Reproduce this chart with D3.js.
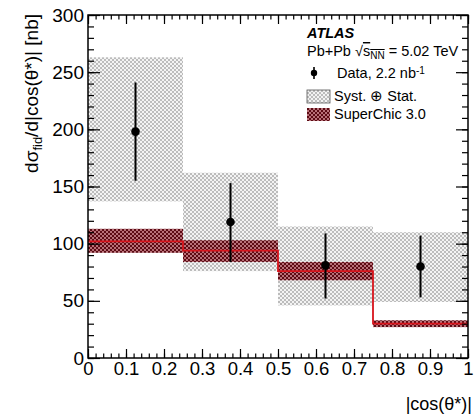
<!DOCTYPE html>
<html>
<head>
<meta charset="utf-8">
<script src="https://cdn.jsdelivr.net/npm/d3@7"></script>
<style>
body{margin:0;background:#fff}
svg{display:block}
text{font-family:"Liberation Sans",Arial,Helvetica,sans-serif;fill:#000}
</style>
</head>
<body>
<svg id="chart" width="475" height="417"></svg>
<script>
// bins in |cos(theta*)|
const binEdges = [0, 0.25, 0.5, 0.75, 1];
// measured data, with stat error bar and syst (+) stat box
const dataVal = [198, 119, 81, 80];
const dataErrLo = [155, 84, 52, 53];
const dataErrHi = [241, 153, 109, 107];
const systLo = [137, 76, 46, 49];
const systHi = [263, 162, 115, 110];
// SuperChic 3.0 prediction with band
const scVal = [102, 94, 76, 30];
const scLo = [92, 84, 68, 27];
const scHi = [113, 103, 84, 33];
// axis ticks
const xTicks = [0, 0.1, 0.2, 0.3, 0.4, 0.5, 0.6, 0.7, 0.8, 0.9, 1];
const xLabels = ['0', '0.1', '0.2', '0.3', '0.4', '0.5', '0.6', '0.7', '0.8', '0.9', '1'];
const yTicks = [0, 50, 100, 150, 200, 250, 300];

const margin = {top: 15, right: 7, bottom: 59, left: 88};
const W = 475, H = 417;
const width = W - margin.left - margin.right, height = H - margin.top - margin.bottom;

const x = d3.scaleLinear().domain([0, 1]).range([0, width]);
const y = d3.scaleLinear().domain([0, 300]).range([height, 0]);

const svg = d3.select('#chart');
const defs = svg.append('defs');
// checker fills like ROOT's dotted fill styles
const mkPat = (id, bg, fg) => {
  const p = defs.append('pattern').attr('id', id).attr('width', 4).attr('height', 4).attr('patternUnits', 'userSpaceOnUse');
  p.append('rect').attr('width', 4).attr('height', 4).attr('fill', bg);
  p.append('rect').attr('width', 2).attr('height', 2).attr('fill', fg);
  p.append('rect').attr('x', 2).attr('y', 2).attr('width', 2).attr('height', 2).attr('fill', fg);
};
mkPat('grayPat', '#f3f3f3', '#bcbcbc');
mkPat('redPat', '#b87078', '#5c0b14');

const g = svg.append('g').attr('transform', `translate(${margin.left},${margin.top})`);

const bins = dataVal.map((d, i) => ({i, x0: binEdges[i], x1: binEdges[i + 1], v: d, lo: dataErrLo[i], hi: dataErrHi[i],
  sLo: systLo[i], sHi: systHi[i], sc: scVal[i], scLo: scLo[i], scHi: scHi[i]}));

// syst boxes
g.selectAll('.syst').data(bins).enter().append('rect').attr('class', 'syst')
  .attr('x', d => x(d.x0)).attr('width', d => x(d.x1) - x(d.x0))
  .attr('y', d => y(d.sHi)).attr('height', d => y(d.sLo) - y(d.sHi))
  .attr('fill', 'url(#grayPat)');

// SuperChic bands
g.selectAll('.scband').data(bins).enter().append('rect').attr('class', 'scband')
  .attr('x', d => x(d.x0)).attr('width', d => x(d.x1) - x(d.x0))
  .attr('y', d => y(d.scHi)).attr('height', d => y(d.scLo) - y(d.scHi))
  .attr('fill', 'url(#redPat)');

// SuperChic central as step line
const stepPts = [];
bins.forEach(d => { stepPts.push([d.x0, d.sc]); stepPts.push([d.x1, d.sc]); });
g.append('path').datum(stepPts)
  .attr('d', d3.line().x(d => x(d[0])).y(d => y(d[1])))
  .attr('fill', 'none').attr('stroke', '#d8141c').attr('stroke-width', 1.8);

// data points
const cx = d => x((d.x0 + d.x1) / 2);
g.selectAll('.err').data(bins).enter().append('line').attr('class', 'err')
  .attr('x1', cx).attr('x2', cx).attr('y1', d => y(d.lo)).attr('y2', d => y(d.hi))
  .attr('stroke', '#000').attr('stroke-width', 2);
g.selectAll('.pt').data(bins).enter().append('circle').attr('class', 'pt')
  .attr('cx', cx).attr('cy', d => y(d.v)).attr('r', 4.3).attr('fill', '#000');

// axes, ROOT style ticks inside on all four sides
const minorX = d3.range(0, 1.0001, 0.02).map(v => +v.toFixed(2));
const minorY = d3.range(0, 301, 10);
const addAxis = (axis, tr, cls) => {
  const a = g.append('g').attr('class', cls).attr('transform', tr).call(axis);
  a.select('.domain').remove();
  a.selectAll('line').attr('stroke', '#000').attr('stroke-width', 1.2);
  return a;
};
addAxis(d3.axisBottom(x).tickValues(minorX).tickSize(-4.5).tickFormat(''), `translate(0,${height})`, 'xminor');
addAxis(d3.axisTop(x).tickValues(minorX).tickSize(-4.5).tickFormat(''), 'translate(0,0)', 'xminorT');
addAxis(d3.axisTop(x).tickValues(xTicks).tickSize(-9).tickFormat(''), 'translate(0,0)', 'xmajorT');
const xa = addAxis(d3.axisBottom(x).tickValues(xTicks).tickSize(-9).tickPadding(4).tickFormat((d, i) => xLabels[i]), `translate(0,${height})`, 'xaxis');
xa.selectAll('text').style('font-size', '18.5px');

addAxis(d3.axisLeft(y).tickValues(minorY).tickSize(-6).tickFormat(''), 'translate(0,0)', 'yminor');
addAxis(d3.axisRight(y).tickValues(minorY).tickSize(-6).tickFormat(''), `translate(${width},0)`, 'yminorR');
addAxis(d3.axisRight(y).tickValues(yTicks).tickSize(-12).tickFormat(''), `translate(${width},0)`, 'ymajorR');
const ya = addAxis(d3.axisLeft(y).tickValues(yTicks).tickSize(-12).tickPadding(4), 'translate(0,0)', 'yaxis');
ya.selectAll('text').style('font-size', '19px');

g.append('rect').attr('width', width).attr('height', height).attr('fill', 'none').attr('stroke', '#000').attr('stroke-width', 1.5);

// axis titles
svg.append('text').attr('x', 472).attr('y', 410).attr('text-anchor', 'end').style('font-size', '18px').text('|cos(θ*)|');
const yt = svg.append('text').attr('transform', `translate(38,${margin.top - 1}) rotate(-90)`).attr('text-anchor', 'end').style('font-size', '19px');
yt.append('tspan').text('dσ');
yt.append('tspan').attr('baseline-shift', '-30%').style('font-size', '13px').text('fid');
yt.append('tspan').text('/d|cos(θ*)| [nb]');

// legend
const fs = '14.5px';
const lg = svg.append('g').attr('transform', 'translate(307,0)');
lg.append('text').attr('x', 0).attr('y', 38).style('font-size', fs).style('font-weight', 'bold').style('font-style', 'italic').text('ATLAS');
const t2 = lg.append('text').attr('x', 0).attr('y', 56).style('font-size', fs);
t2.append('tspan').text('Pb+Pb √');
t2.append('tspan').style('text-decoration', 'overline').text('s');
t2.append('tspan').style('text-decoration', 'overline').attr('baseline-shift', '-25%').style('font-size', '10px').text('NN');
t2.append('tspan').text(' = 5.02 TeV');

const legendItems = ['Data', 'Syst', 'SuperChic'];
const ly = [73, 96, 114];
lg.selectAll('.lsym').data(legendItems).enter().append('g').each(function(d, i) {
  const s = d3.select(this);
  if (d === 'Data') {
    s.append('line').attr('x1', 7).attr('x2', 7).attr('y1', ly[i] - 6).attr('y2', ly[i] + 6).attr('stroke', '#000').attr('stroke-width', 1.6);
    s.append('circle').attr('cx', 7).attr('cy', ly[i]).attr('r', 3.2).attr('fill', '#000');
  } else {
    s.append('rect').attr('x', 0).attr('y', ly[i] - 6).attr('width', 23).attr('height', 13)
      .attr('fill', d === 'Syst' ? 'url(#grayPat)' : 'url(#redPat)')
      .attr('stroke', d === 'Syst' ? '#555' : 'none').attr('stroke-width', 0.8);
  }
});
const t3 = lg.append('text').attr('x', 30).attr('y', ly[0] + 5).style('font-size', fs);
t3.append('tspan').text('Data, 2.2 nb');
t3.append('tspan').attr('baseline-shift', '40%').style('font-size', '10px').text('-1');
lg.append('text').attr('x', 27).attr('y', ly[1] + 5).style('font-size', fs).text('Syst. ⊕ Stat.');
lg.append('text').attr('x', 27).attr('y', ly[2] + 5).style('font-size', fs).text('SuperChic 3.0');
</script>
</body>
</html>
